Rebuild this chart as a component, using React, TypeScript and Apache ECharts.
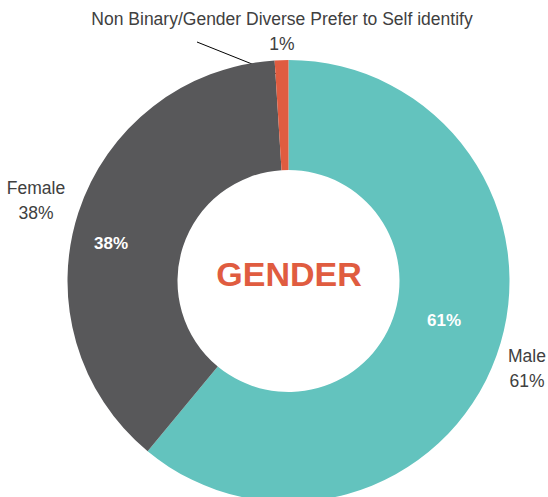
import React, { useEffect, useRef } from "react";
import * as echarts from "echarts";

const categories = ["Male", "Female", "Non Binary/Gender Diverse Prefer to Self identify"];
const values = [61, 38, 1];
const colors = ["#63C3BE", "#58585A", "#E05C40"];
const centerTitle = "GENDER";

export default function App() {
  const ref = useRef<HTMLDivElement>(null);
  useEffect(() => {
    if (!ref.current) return;
    const chart = echarts.init(ref.current, null, { renderer: "svg" });
    const data = categories.map((name, i) => ({
      name,
      value: values[i],
      itemStyle: { color: colors[i] },
    }));
    const innerPos = [
      [444, 320],
      [111, 243],
      [0, 0],
    ];
    const outerPos = [
      [527, 368],
      [36, 200],
      [282, 31],
    ];
    chart.setOption({
      animation: false,
      backgroundColor: "#ffffff",
      series: [
        {
          type: "pie",
          radius: [111, 221],
          center: [288.5, 281],
          startAngle: 90,
          clockwise: true,
          silent: true,
          data: data.map((d, i) => ({
            ...d,
            label: { show: i < 2 },
          })),
          label: {
            position: "inside",
            formatter: (p: any) => p.value + "%",
            color: "#ffffff",
            fontWeight: "bold",
            fontSize: 17,
            fontFamily: "Liberation Sans, Arial, sans-serif",
          },
          labelLine: { show: false },
          labelLayout: (p: any) => ({
            x: innerPos[p.dataIndex][0],
            y: innerPos[p.dataIndex][1],
            align: "center",
            verticalAlign: "middle",
          }),
        },
        {
          type: "pie",
          radius: [111, 221],
          center: [288.5, 281],
          startAngle: 90,
          clockwise: true,
          silent: true,
          itemStyle: { color: "transparent" },
          data: categories.map((name, i) => ({ name, value: values[i] })),
          label: {
            show: true,
            position: "outside",
            alignTo: "none",
            overflow: "none",
            formatter: (p: any) => p.name + "\n" + p.value + "%",
            color: "#404040",
            fontSize: 17.5,
            lineHeight: 25,
            fontFamily: "Liberation Sans, Arial, sans-serif",
          },
          labelLine: { show: false },
          labelLayout: (p: any) => ({
            x: outerPos[p.dataIndex][0],
            y: outerPos[p.dataIndex][1],
            align: "center",
            verticalAlign: "middle",
            width: 500,
          }),
        },
      ],
      graphic: [
        {
          type: "line",
          shape: { x1: 197, y1: 42, x2: 277, y2: 74 },
          style: { stroke: "#000000", lineWidth: 1 },
          silent: true,
        },
        {
          type: "text",
          x: 289,
          y: 273.5,
          style: {
            text: centerTitle,
            fill: "#E05C40",
            fontSize: 34,
            fontWeight: "bold",
            fontFamily: "Liberation Sans, Arial, sans-serif",
            align: "center",
            verticalAlign: "middle",
          },
        },
      ],
    });
    return () => chart.dispose();
  }, []);
  return (
    <div
      ref={ref}
      style={{ position: "fixed", left: 0, top: 0, width: 548, height: 497 }}
    />
  );
}
